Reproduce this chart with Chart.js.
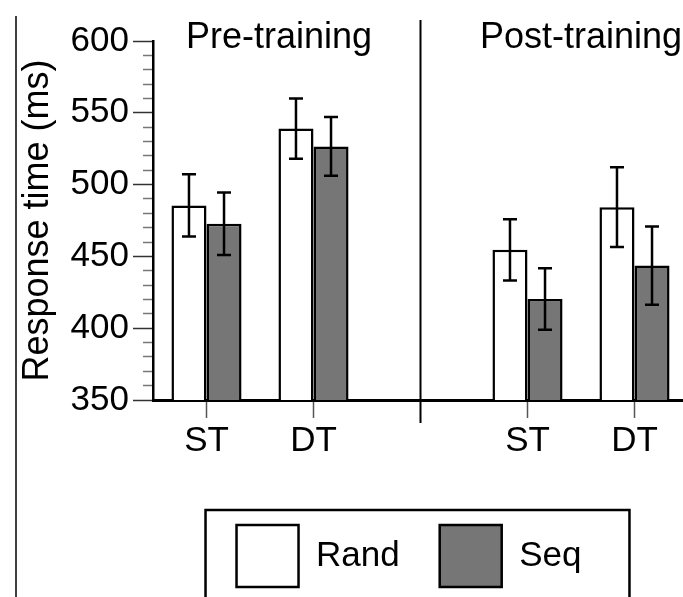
<!DOCTYPE html>
<html>
<head>
<meta charset="utf-8">
<script src="https://cdn.jsdelivr.net/npm/chart.js@4.4.1/dist/chart.umd.min.js"></script>
<style>
  html, body { margin: 0; padding: 0; background: #fff; }
  #wrap { width: 683px; height: 597px; }
</style>
</head>
<body>
<div id="wrap"><canvas id="rtChart" width="683" height="597"></canvas></div>
<script>
/* ─── DATA ─────────────────────────────────────────────── */
const categories  = ['ST', 'DT', '', 'ST', 'DT'];   // blank slot = divider between sessions
const groups      = ['Pre-training', 'Post-training'];
const seriesNames = ['Rand', 'Seq'];
const randMeans   = [485.5, 539.0, null, 454.6, 484.3];
const randErrors  = [21.7, 21.0, null, 21.3, 27.7];
const seqMeans    = [472.7, 526.6, null, 420.4, 443.6];
const seqErrors   = [21.8, 20.5, null, 21.4, 27.3];
const yMajorTicks = [350, 400, 450, 500, 550, 600];
const yMinorStep  = 10;

const FONT = "'Liberation Sans', Arial, Helvetica, sans-serif";
const isMajor = (c) => c.tick && yMajorTicks.includes(c.tick.value);

/* ─── LAYOUT NUDGE: plot runs slightly past the right edge ─ */
const layoutNudge = {
  id: 'layoutNudge',
  afterLayout(chart) {
    const x = chart.scales.x;
    x.right += 5;
    x.width += 5;
    chart.chartArea.right += 5;
    chart.chartArea.width += 5;
    x.configure();
    chart.legend.left -= 18;
  }
};

/* ─── ERROR BARS ───────────────────────────────────────── */
const errorBars = {
  id: 'errorBars',
  afterDatasetsDraw(chart) {
    const { ctx, scales: { y } } = chart;
    chart.data.datasets.forEach((ds, i) => {
      chart.getDatasetMeta(i).data.forEach((bar, j) => {
        const m = ds.data[j], e = ds.errors[j];
        if (m == null) return;
        const top = y.getPixelForValue(m + e);
        const bot = y.getPixelForValue(m - e);
        ctx.save();
        ctx.strokeStyle = '#000';
        ctx.lineWidth = 2.5;
        ctx.beginPath();
        ctx.moveTo(bar.x, top);     ctx.lineTo(bar.x, bot);
        ctx.moveTo(bar.x - 7, top); ctx.lineTo(bar.x + 7, top);
        ctx.moveTo(bar.x - 7, bot); ctx.lineTo(bar.x + 7, bot);
        ctx.stroke();
        ctx.restore();
      });
    });
  }
};

/* ─── DIVIDER, GROUP LABELS, FRAMES ────────────────────── */
const decorations = {
  id: 'decorations',
  afterDraw(chart) {
    const { ctx, chartArea, scales: { x } } = chart;
    ctx.save();
    ctx.strokeStyle = '#000';

    // figure frame fragment on the left
    ctx.lineWidth = 1.5;
    ctx.beginPath();
    ctx.moveTo(16, 16);
    ctx.lineTo(16, chart.height);
    ctx.stroke();

    // divider between pre / post
    const dx = x.getPixelForValue(2);
    ctx.lineWidth = 2;
    ctx.beginPath();
    ctx.moveTo(dx, chartArea.top - 21);
    ctx.lineTo(dx, chartArea.bottom + 23);
    ctx.stroke();

    // session labels
    ctx.fillStyle = '#000';
    ctx.font = '36px ' + FONT;
    ctx.textAlign = 'center';
    ctx.textBaseline = 'alphabetic';
    const preX  = (x.getPixelForValue(0) + x.getPixelForValue(1)) / 2 + 19;
    const postX = (x.getPixelForValue(3) + x.getPixelForValue(4)) / 2;
    ctx.fillText(groups[0], preX, chartArea.top + 7);
    ctx.fillText(groups[1], postX, chartArea.top + 7);

    // box round the legend
    const hb = chart.legend.legendHitBoxes;
    if (hb && hb.length) {
      const last = hb[hb.length - 1];
      const l = hb[0].left - 31;
      const t = hb[0].top - 15;
      const r = last.left + last.width + 48;
      ctx.lineWidth = 2.5;
      ctx.beginPath();
      ctx.moveTo(l, chart.height + 5);
      ctx.lineTo(l, t);
      ctx.lineTo(r, t);
      ctx.lineTo(r, chart.height + 5);
      ctx.stroke();
    }
    ctx.restore();
  }
};

/* ─── CHART ────────────────────────────────────────────── */
new Chart(document.getElementById('rtChart'), {
  type: 'bar',
  data: {
    labels: categories,
    datasets: [
      {
        label: seriesNames[0],
        data: randMeans,
        errors: randErrors,
        backgroundColor: '#ffffff',
        borderColor: '#000',
        borderWidth: 2.5,
        borderSkipped: false
      },
      {
        label: seriesNames[1],
        data: seqMeans,
        errors: seqErrors,
        backgroundColor: '#767676',
        borderColor: '#000',
        borderWidth: 2.5,
        borderSkipped: false
      }
    ]
  },
  options: {
    responsive: false,
    animation: false,
    layout: { padding: { top: 41, right: 0, bottom: 0, left: 0 } },
    datasets: { bar: { barPercentage: 1, categoryPercentage: 0.655 } },
    scales: {
      x: {
        offset: true,
        grid: {
          offset: false,
          drawOnChartArea: false,
          tickLength: 18,
          tickWidth: 1.5,
          tickColor: (c) => categories[c.index] ? '#555' : 'rgba(0,0,0,0)'
        },
        border: { color: '#000', width: 3 },
        ticks: {
          color: '#000',
          font: { family: FONT, size: 35 },
          padding: 2,
          maxRotation: 0,
          autoSkip: false
        },
        afterFit: (s) => { s.height = 85; }
      },
      y: {
        min: yMajorTicks[0],
        max: yMajorTicks[yMajorTicks.length - 1],
        afterBuildTicks: (s) => {
          const ticks = [];
          for (let v = s.min; v <= s.max; v += yMinorStep) ticks.push({ value: v });
          s.ticks = ticks;
        },
        grid: {
          drawOnChartArea: false,
          tickLength: 20,
          tickWidth: 1.5,
          tickColor: (c) => isMajor(c) ? '#333' : '#777',
          tickBorderDash: (c) => isMajor(c) ? [] : [10, 10],
          tickBorderDashOffset: (c) => isMajor(c) ? 0 : 10
        },
        border: { color: '#000', width: 2.5 },
        ticks: {
          autoSkip: false,
          padding: 4,
          color: '#000',
          font: { family: FONT, size: 35 },
          callback: (v) => yMajorTicks.includes(v) ? String(v) : ''
        },
        title: {
          display: true,
          text: 'Response time (ms)',
          color: '#000',
          font: { family: FONT, size: 36 },
          padding: { top: 16, bottom: 0 }
        },
        afterFit: (s) => { s.width = 153; }
      }
    },
    plugins: {
      legend: {
        position: 'bottom',
        fullSize: false,
        labels: {
          boxWidth: 62,
          boxHeight: 62,
          padding: 40,
          color: '#000',
          font: { family: FONT, size: 35 }
        }
      },
      tooltip: { enabled: false }
    }
  },
  plugins: [layoutNudge, errorBars, decorations]
});
</script>
</body>
</html>
